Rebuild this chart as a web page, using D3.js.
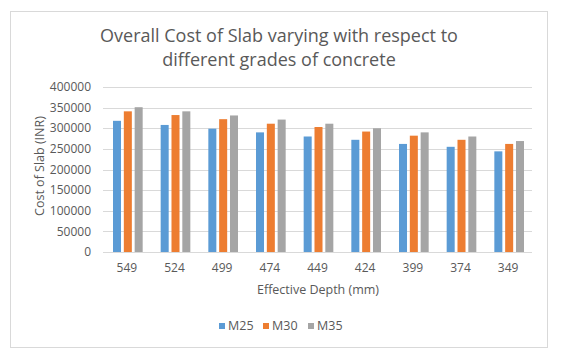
<!DOCTYPE html>
<html>
<head>
<meta charset="utf-8">
<script src="https://cdn.jsdelivr.net/npm/d3@7"></script>
<style>
  body { margin: 0; background: #fff; }
  svg text { font-family: "Open Sans", "Liberation Sans", sans-serif; fill: #595959; }
</style>
</head>
<body>
<div id="chart"></div>
<script>
// chart data
var depths = ['549', '524', '499', '474', '449', '424', '399', '374', '349'];
var seriesNames = ['M25', 'M30', 'M35'];
var m25 = [318000, 308000, 299000, 290000, 280000, 272000, 262000, 255000, 244000];
var m30 = [341000, 332000, 322000, 311000, 303000, 292000, 282000, 272000, 262000];
var m35 = [351000, 341000, 331000, 321000, 311000, 300000, 290000, 280000, 269000];
var yTicks = [0, 50000, 100000, 150000, 200000, 250000, 300000, 350000, 400000];
var colors = ['#5B9BD5', '#ED7D31', '#A5A5A5'];

var seriesValues = [m25, m30, m35];

var W = 563, H = 362;
var margin = { top: 87, right: 31, bottom: 110, left: 103 },
    width = W - margin.left - margin.right,
    height = H - margin.top - margin.bottom;

var svg = d3.select('#chart')
            .append('svg')
            .attr('width', W)
            .attr('height', H);

// outer chart frame
svg.append('rect')
   .attr('x', 10.5).attr('y', 11.5)
   .attr('width', 537).attr('height', 336)
   .attr('fill', '#fff')
   .attr('stroke', '#D9D9D9');

// title
var title = svg.append('text')
   .attr('text-anchor', 'middle')
   .style('font-size', '18px');
title.append('tspan').attr('x', 279).attr('y', 42).text('Overall Cost of Slab varying with respect to');
title.append('tspan').attr('x', 279).attr('y', 66).text('different grades of concrete');

var g = svg.append('g')
           .attr('transform', 'translate(' + margin.left + ',' + margin.top + ')');

var x0 = d3.scaleBand().domain(depths).range([0, width]).paddingInner(0).paddingOuter(0);
var x1 = d3.scaleBand().domain(seriesNames).range([10, x0.bandwidth() - 8]).paddingInner(0.26);
var y = d3.scaleLinear().domain([0, 400000]).range([height, 0]);

// gridlines
g.selectAll('.grid')
 .data(yTicks)
 .enter().append('line')
 .attr('x1', 0).attr('x2', width)
 .attr('y1', function(d) { return Math.round(y(d)) + 0.5; })
 .attr('y2', function(d) { return Math.round(y(d)) + 0.5; })
 .attr('stroke', '#D9D9D9');

// y tick labels
g.selectAll('.ylab')
 .data(yTicks)
 .enter().append('text')
 .attr('x', -12)
 .attr('y', function(d) { return y(d); })
 .attr('dy', '0.35em')
 .attr('text-anchor', 'end')
 .style('font-size', '12px')
 .text(function(d) { return d; });

// bars
var groups = g.selectAll('.grp')
  .data(depths)
  .enter().append('g')
  .attr('transform', function(d) { return 'translate(' + x0(d) + ',0)'; });

groups.selectAll('rect')
  .data(function(d, i) { return seriesNames.map(function(s, k) { return { s: s, k: k, v: seriesValues[k][i] }; }); })
  .enter().append('rect')
  .attr('x', function(d) { return x1(d.s); })
  .attr('width', x1.bandwidth())
  .attr('y', function(d) { return y(d.v); })
  .attr('height', function(d) { return height - y(d.v); })
  .attr('fill', function(d) { return colors[d.k]; });

// x tick labels
g.selectAll('.xlab')
 .data(depths)
 .enter().append('text')
 .attr('x', function(d) { return x0(d) + x0.bandwidth() / 2; })
 .attr('y', height + 20)
 .attr('text-anchor', 'middle')
 .style('font-size', '12px')
 .text(function(d) { return d; });

// axis titles
svg.append('text')
   .attr('x', 318).attr('y', 294)
   .attr('text-anchor', 'middle')
   .style('font-size', '12.5px')
   .text('Effective Depth (mm)');

svg.append('text')
   .attr('transform', 'translate(44,166) rotate(-90)')
   .attr('text-anchor', 'middle')
   .style('font-size', '12.5px')
   .text('Cost of Slab (INR)');

// legend
var legend = svg.append('g').attr('transform', 'translate(219,326)');
var lx = [0, 44, 89];
seriesNames.forEach(function(s, k) {
  legend.append('rect')
        .attr('x', lx[k]).attr('y', -3)
        .attr('width', 6).attr('height', 6)
        .attr('fill', colors[k]);
  legend.append('text')
        .attr('x', lx[k] + 9).attr('y', 0)
        .attr('dy', '0.35em')
        .style('font-size', '12.5px')
        .text(s);
});
</script>
</body>
</html>
